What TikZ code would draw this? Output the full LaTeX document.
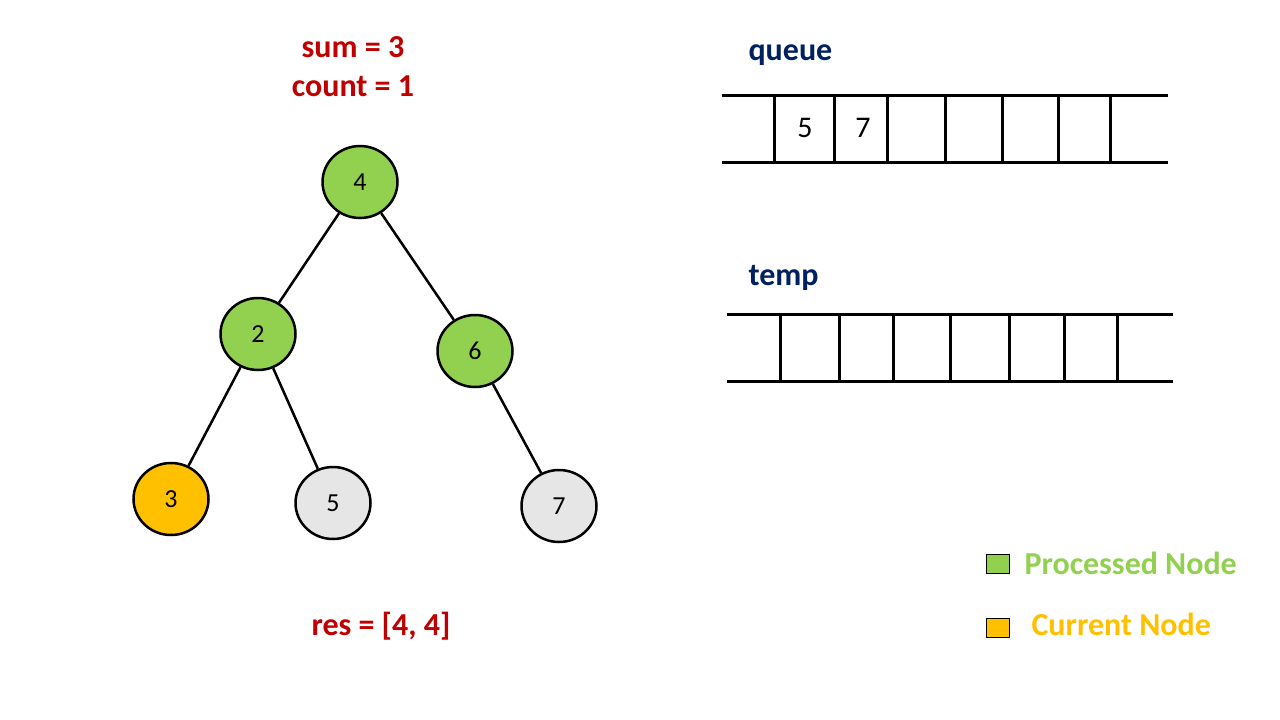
\documentclass[tikz,border=0pt]{standalone}
\usepackage{fontspec}
\setmainfont{Carlito}
\usetikzlibrary{shapes.geometric}
\definecolor{procgreen}{HTML}{92D050}
\definecolor{curorange}{HTML}{FFC000}
\definecolor{waitgray}{HTML}{E6E6E6}
\definecolor{valred}{HTML}{C00000}
\definecolor{labelnavy}{HTML}{002060}

\begin{document}
\begin{tikzpicture}[x=1pt,y=-1pt,
    treenode/.style={ellipse,draw,line width=2.5pt,minimum width=75pt,minimum height=72pt,inner sep=0pt,font=\fontsize{26}{26}\selectfont},
    edge/.style={line width=2.5pt},
    cell/.style={line width=3pt},
    vartext/.style={anchor=base,text=valred,font=\fontsize{32}{32}\selectfont\bfseries},
    boxlabel/.style={anchor=base west,text=labelnavy,font=\fontsize{32}{32}\selectfont\bfseries},
    legendtext/.style={anchor=base west,font=\fontsize{32}{32}\selectfont\bfseries}]
        \useasboundingbox (0,0) rectangle (1280,720);

        % Variables
        \node[vartext] (sum) at (353,57) {sum = 3};
        \node[vartext] (count) at (353,96) {count = 1};
        \node[vartext] (res) at (381,635) {res = [4, 4]};

        % Tree
        \node[treenode,fill=procgreen] (n4) at (360,182) {4};
        \node[treenode,fill=procgreen] (n2) at (258,334) {2};
        \node[treenode,fill=procgreen] (n6) at (475,351) {6};
        \node[treenode,fill=curorange] (n3) at (171,499) {3};
        \node[treenode,fill=waitgray] (n5) at (333,503) {5};
        \node[treenode,fill=waitgray] (n7) at (559,506) {7};
        \draw[edge] (n4) -- (n2);
        \draw[edge] (n4) -- (n6);
        \draw[edge] (n2) -- (n3);
        \draw[edge] (n2) -- (n5);
        \draw[edge] (n6) -- (n7);

        % Queue
        \node[boxlabel] (queue) at (745,60) {queue};
        \coordinate (QA) at (722,95);
        \coordinate (QB) at (1168,95);
        \coordinate (QC) at (722,162);
        \coordinate (QD) at (1168,162);
        \draw[cell] (QA) -- (QB);
        \draw[cell] (QC) -- (QD);
        \foreach \x in {774,834,887,945,1002,1058,1110}
            \draw[cell] (\x,95) -- (\x,162);
        \node[font=\fontsize{30}{30}\selectfont] (q5) at (805,128) {5};
        \node[font=\fontsize{30}{30}\selectfont] (q7) at (863,128) {7};

        % Temp
        \node[boxlabel] (temp) at (745,285) {temp};
        \coordinate (TA) at (727,314);
        \coordinate (TB) at (1173,314);
        \coordinate (TC) at (727,381);
        \coordinate (TD) at (1173,381);
        \draw[cell] (TA) -- (TB);
        \draw[cell] (TC) -- (TD);
        \foreach \x in {780,839,893,950,1009,1064,1117}
            \draw[cell] (\x,314) -- (\x,381);

        % Legend
        \draw[line width=1pt,fill=procgreen] (986,554) rectangle (1009,573);
        \node[legendtext,text=procgreen] (processed) at (1021,574) {Processed Node};
        \draw[line width=1pt,fill=curorange] (986,618) rectangle (1009,637);
        \node[legendtext,text=curorange] (current) at (1028,635) {Current Node};
    \end{tikzpicture}
\end{document}
